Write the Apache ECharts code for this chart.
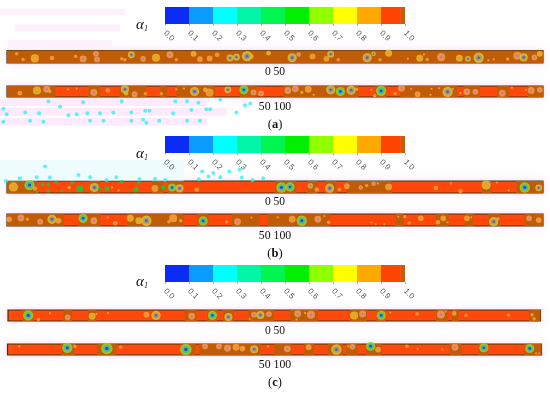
<!DOCTYPE html>
<html><head><meta charset="utf-8">
<style>html,body{margin:0;padding:0;background:#fff}#c{width:550px;height:393px}</style>
<script src="https://cdn.jsdelivr.net/npm/echarts@6/dist/echarts.min.js"></script>
</head><body><div id="c"></div>
<script>
// colour bar
const barTicks = [0,0.1,0.2,0.3,0.4,0.5,0.6,0.7,0.8,0.9,1.0];
const barSegments = [0.1,0.1,0.1,0.1,0.1,0.1,0.1,0.1,0.1,0.083,0.017];
const barColors = ['#0a2cf5','#0a9cff','#00ffff','#00f5a5','#00f550','#00f000','#90ff00','#ffff00','#ffa800','#ff4400','#bf6010'];

// bubbles: [axial position, height in channel, diameter, minimum alpha]
const a1Bubbles = [[0.9,.74,3,.85],[1.5,.29,3,.85],[2.6,.37,7,.75],[4.2,.4,4,.85],[6.4,.53,3,.85],[7.1,.32,6,.6],[8.3,.74,5,.6],[8.4,.29,5,.6],[10.7,.34,3,.85],[11,.26,3,.85],[11.6,.66,6,.4],[12.7,.34,5,.6],[13.9,.42,7,.75],[15.2,.66,6,.6],[15.8,.26,3,.85],[17.4,.74,5,.75],[18,.32,5,.85],[18.9,.37,5,.85],[19.6,.66,4,.85],[20.8,.4,6,.4],[21.4,.47,6,.4],[22.4,.55,9,.4],[22.8,.53,4,.75],[24.4,.79,4,.75],
[26.6,.42,8,.4],[27.2,.68,4,.6],[28.5,.53,5,.85],[29.8,.34,5,.85],[30.2,.71,6,.4],[30.9,.26,3,.85],[33.6,.42,8,.4],[34.2,.74,4,.4],[34.8,.26,3,.85],[35.6,.79,6,.75],[37.4,.34,2,.85],[38.5,.39,6,.75],[38.9,.68,2,.85],[39.2,.29,3,.85],[40.5,.47,7,.6],[42.2,.39,6,.75],[43,.34,5,.4],[44,.42,9,.4],[44.9,.21,2,.85],[45.4,.29,2,.85],[46.7,.32,3,.85],[47.6,.58,7,.6],[48.2,.45,7,.4],[49.2,.45,5,.6],[49.7,.74,5,.75]];
const a2Bubbles = [[1.2,.35,4,.85],[2.8,.59,7,.75],[3.7,.7,6,.6],[4,.5,3,.85],[5.7,.7,2,.85],[6.5,.76,2,.85],[8.1,.41,6,.6],[9.4,.59,4,.85],[11,.7,7,.4],[11.1,.35,4,.75],[11.9,.26,5,.6],[12.9,.3,3,.85],[14.4,.3,3,.85],[15.8,.7,2,.85],[16.5,.76,2,.85],[17.5,.5,8,.4],[18.5,.65,4,.75],[18.9,.41,7,.85],[20.6,.65,6,.4],[22.1,.65,8,.1],[23,.41,5,.6],[23.7,.32,5,.6],
[26.2,.59,6,.6],[26.9,.74,6,.6],[27.5,.41,3,.85],[28.1,.7,6,.85],[28.6,.2,2,.85],[30.2,.65,8,.4],[31.1,.5,8,.1],[32.1,.62,8,.4],[32.6,.7,3,.85],[34,.65,2,.85],[34.3,.12,3,.85],[34.9,.56,9,.1],[36.2,.32,3,.85],[36.8,.79,6,.6],[37.7,.74,2,.85],[38.3,.26,5,.85],[39.6,.74,2,.85],[39.5,.2,2,.85],[40.3,.79,2,.85],[41.1,.47,9,.4],[41.6,.74,2,.85],[42.3,.35,2,.85],[42.9,.47,6,.6],[43.7,.47,5,.6],[46.2,.35,6,.6],[47.1,.85,2,.85],[48.4,.65,2,.85],[48.9,.59,6,.6],[49.7,.65,5,.6]];
const b1Bubbles = [[.6,.51,8,.75],[2.1,.66,9,.1],[2.6,.37,4,.85],[3.3,.71,3,.5],[3.85,.66,3,.5],[4.6,.89,3,.5],[3.85,.17,3,.5],[2.8,.09,2,.5],[5.1,.23,2,.5],[6.1,.86,3,.5],[5.8,.46,3,.85],[6.8,.34,6,.5],[8.15,.46,8,.4],[8.6,.37,3,.5],[9.3,.37,4,.5],[9.8,.46,2,.85],[10.4,.23,2,.85],[12,.29,5,.5],[10.7,.94,3,.5],[12.3,.86,3,.5],[13.8,.37,6,.85],[14.6,.46,4,.5],[15.4,.46,7,.1],[16.1,.4,7,.4],[17.7,.29,4,.85],
[25.6,.46,9,.1],[26.4,.51,8,.1],[28.3,.6,5,.6],[28.9,.29,4,.85],[30.1,.4,8,.4],[31,.29,3,.85],[31.7,.57,5,.85],[33,.46,4,.6],[33.55,.63,3,.85],[34.2,.77,4,.6],[34.6,.8,2,.85],[35.6,.51,6,.85],[40,.43,4,.85],[41.4,.8,2,.85],[42.3,.17,4,.85],[44.7,.66,8,.75],[45.7,.86,2,.85],[46.8,.23,2,.85],[48.3,.46,9,.1],[49.6,.43,6,.4]];
const b2Bubbles = [[.2,.56,5,.85],[1.3,.67,6,.6],[1.9,.56,3,.85],[3.1,.36,5,.6],[4.2,.56,8,.4],[4.8,.44,5,.85],[7.1,.64,8,.1],[8.1,.44,6,.6],[9.4,.69,2,.85],[10.1,.22,4,.6],[11.5,.64,6,.75],[12.3,.44,6,.75],[13,.44,9,.4],[15.5,.64,7,.85],[15.1,.36,3,.85],[16.2,.44,3,.85],[18.3,.42,8,.1],[20.5,.36,3,.85],[21.5,.36,6,.6],[22.8,.69,2,.85],
[25.25,.72,2,.85],[26.6,.56,6,.85],[27.5,.44,9,.1],[29,.56,6,.6],[29.6,.83,2,.85],[30,.31,3,.85],[34,.31,2,.85],[34.4,.14,2,.85],[35.2,.14,2,.85],[36.5,.78,2,.85],[37.1,.78,3,.85],[37.5,.25,3,.85],[38.6,.64,5,.85],[40.2,.31,4,.85],[40.7,.64,5,.85],[41.1,.31,2,.85],[42.9,.64,5,.85],[43.3,.72,2,.85],[45.4,.36,8,.4],[45.8,.61,3,.85],[48.7,.64,5,.6],[49.6,.5,5,.85]];
const c1Bubbles = [[1.9,.51,9,.1],[2.85,.14,3,.85],[3.95,.69,2,.85],[5.6,.34,5,.6],[7.9,.43,6,.75],[8.3,.63,2,.85],[9.4,.71,2,.85],[13,.57,5,.85],[13.9,.51,8,.4],[17.25,.43,6,.6],[19.2,.51,8,.1],[20.7,.37,7,.4],[22.7,.2,2,.85],[23.1,.57,5,.6],[23.7,.54,7,.4],[24.5,.63,5,.6],
[27.2,.66,6,.6],[27.9,.71,2,.85],[28.45,.57,7,.6],[27.1,.14,2,.85],[32.5,.49,7,.75],[33.3,.63,6,.6],[35.05,.51,8,.1],[35.9,.77,2,.85],[38.4,.63,3,.85],[40.65,.6,7,.6],[41.1,.86,2,.85],[41.9,.69,4,.85],[43,.51,3,.85],[47,.54,3,.85],[49.2,.57,3,.85],[49.4,.2,3,.85]];
const c2Bubbles = [[1.1,.79,2,.85],[5.6,.65,9,.1],[6.3,.79,3,.85],[9.3,.59,10,.1],[10.6,.71,3,.85],[16.7,.5,10,.1],[18.5,.79,5,.6],[19.8,.79,5,.6],[20.6,.62,6,.6],[21.4,.71,6,.85],[22,.59,5,.85],[23.1,.53,7,.4],[24.4,.79,2,.85],
[26.2,.56,6,.6],[28.2,.71,5,.85],[30.8,.5,9,.4],[31.9,.79,2,.85],[32.3,.74,5,.6],[34,.79,8,.1],[34.7,.5,5,.85],[37.4,.79,3,.85],[38.4,.56,2,.85],[40.7,.5,2,.85],[41.9,.71,6,.6],[44.6,.65,8,.1],[48.9,.59,8,.1],[49.5,.15,2,.85],[49.8,.15,2,.85]];

// darker brown stretches of each channel: [from, to]
const a1Brown = [[0,50]];
const a2Brown = [[0,4.5],[7.6,8.7],[10.5,13],[14.3,14.9],[15.8,19.4],[21.7,23.3],[25.8,32.8],[34.3,35.4],[36.7,42],[42.6,44.1],[45.7,46.8],[48.6,50]];
const b1Brown = [[0,2.8],[7.75,8.7],[13.5,14.6],[15.05,16.45],[25,27],[28,29],[29.7,30.75],[31.7,35.9],[44.3,45.2],[47.5,50]];
const b2Brown = [[0,5.3],[6.7,8.7],[11.2,16.45],[17.7,18.8],[21,23.6],[24.3,30.1],[36.2,37],[40,41.2],[42.7,43.5],[44.9,46],[48.3,50]];
const c1Brown = [[1.4,2.4],[5.2,6],[7.5,8.3],[16.6,17.7],[18.7,19.6],[20.2,21.2],[22.6,25],[26.5,29.1],[32.1,33.7],[34.6,35.4],[40.2,41.3],[41.7,42.3],[48.9,50]];
const c2Brown = [[5,6.3],[8.4,10.2],[16.2,17.6],[18,23.7],[25,26.6],[27.8,28.7],[30,31.4],[31.7,32.8],[33.6,35],[41.4,42.5],[44.1,45],[48.4,50]];

// speckle and pale bands of the print around the channels
const a2Speckle = [[-.34,-1.06],[-.03,-1.56],[1.7,-1.41],[3,-1.47],[3.86,-.38],[4.95,-.88],[5.73,-1.65],[7.1,-.47],[7.5,-1.47],[8.68,-1.47],[9.92,-1.41],[10.7,-.38],[11.6,-1.41],[12.9,-1.26],[13.3,-1.26],[15.5,-1.47],[15.7,-.38],[16.8,-.38],[17.85,-.53],[17.2,-1.18],[18.6,-1.12],[18.95,-1.12],[19.9,-.24],[21.4,-1.41],[22.2,-.76],[22.7,-.59],[-.34,-2.24],[2.15,-2.15],[3.4,-2.24],[7.75,-2.15],[9,-2.15],[11.6,-2.15],[12.7,-2.06],[14.2,-2.15],[16.8,-2.15],[18,-2.15],[13,-2.35],[6.5,-1.56]];
const b1Speckle = [[-.1,1],[1.2,1.23],[2.77,1.31],[4,1.29],[6.66,1.51],[7.75,1.31],[9.3,1.09],[10.2,1.31],[12.35,1.17],[13.8,1.17],[14.75,1.09],[17.9,1.14],[18.2,1.8],[18.8,1.37],[19.25,1.66],[19.9,1.31],[20.75,1.8],[21.7,1.94],[21.9,1.29],[22.9,1.09],[23.9,1.23],[3.55,2.2]];
const a1Pale = [[-.65,11,3.85,4.35],[.75,10.55,2.5,3.1],[.1,9.8,1.25,1.85]];
const a2Pale = [[-.65,18.7,-.82,-.2],[-.65,20.5,-1.7,-.97],[-.65,18.7,-2.6,-1.9]];
const b1Pale = [[-.65,16.5,1.05,2.75]];

const palette = {
  .85:['#f5a63e'],
  .75:['#e2c42e','#f09c30'],
  .6:['#e8a648','#e88f80','#dc5ea0'],
  .5:['#0cd038'],
  .4:['#e0c838','#8fa47e','#7440c0'],
  .1:['#9ad82a','#30c4a8','#2234e6']
};
const layerScale = [1.15,.72,.36];

const strips = [
 {left:7,top:50.5,width:536,height:12.5,min:0,bubbles:a1Bubbles,brown:a1Brown,pale:a1Pale,paleColor:'#fef1fc',speckle:[],base:'#ff4400'},
 {left:7,top:86,width:536,height:11,min:50,bubbles:a2Bubbles,brown:a2Brown,pale:a2Pale,paleColor:'#fdeafb',speckle:a2Speckle,base:'#ff4400'},
 {left:7,top:181,width:536,height:12,min:0,bubbles:b1Bubbles,brown:b1Brown,pale:b1Pale,paleColor:'#effcfd',speckle:b1Speckle,base:'#ff4400'},
 {left:7,top:214,width:536,height:12,min:50,bubbles:b2Bubbles,brown:b2Brown,pale:[],paleColor:'#fff',speckle:[],base:'#ff4400'},
 {left:8,top:310,width:532.5,height:11,min:0,bubbles:c1Bubbles,brown:c1Brown,pale:[],paleColor:'#fff',speckle:[],base:'#ff4400'},
 {left:7.5,top:344,width:534,height:11,min:50,bubbles:c2Bubbles,brown:c2Brown,pale:[],paleColor:'#fff',speckle:[],base:'#ff4400'}
];
const barTops = [7,136,265];
const serif = '"Liberation Serif","Times New Roman",serif';

const grid=[],xAxis=[],yAxis=[],series=[];
strips.forEach((s,i)=>{
  grid.push({left:s.left,top:s.top,width:s.width,height:s.height,show:true,backgroundColor:s.base,
    borderColor:'#3a3608',borderWidth:1.2,shadowColor:'rgba(250,190,245,.5)',shadowBlur:7});
  xAxis.push({type:'value',gridIndex:i,min:s.min,max:s.min+50,show:false});
  yAxis.push({type:'value',gridIndex:i,min:0,max:1,show:false});
  const off=s.min;
  series.push({type:'custom',xAxisIndex:i,yAxisIndex:i,z:0,silent:true,clip:false,
    data:s.pale.map(p=>[p[0]+off,p[1]+off,p[2],p[3]]),
    encode:{x:[0,1],y:[2,3]},
    renderItem:(params,api)=>{
      const a=api.coord([api.value(0),api.value(3)]),b=api.coord([api.value(1),api.value(2)]);
      return {type:'rect',shape:{x:a[0],y:a[1],width:b[0]-a[0],height:b[1]-a[1]},style:{fill:s.paleColor}};
    }});
  series.push({type:'scatter',xAxisIndex:i,yAxisIndex:i,z:1,silent:true,symbolSize:4,clip:false,
    data:s.speckle.map(p=>[p[0]+off,p[1]]),itemStyle:{color:'#38f0f0'},
    markArea:{silent:true,data:s.brown.map(b=>[{coord:[b[0]+off,0],itemStyle:{color:'#c05c08',opacity:1}},{coord:[b[1]+off,1]}])}});
  layerScale.forEach((k,l)=>{
    series.push({type:'scatter',xAxisIndex:i,yAxisIndex:i,z:3+l,silent:true,
      data:s.bubbles.filter(b=>palette[b[3]][l]).map(b=>[b[0]+off,b[1],b[2],b[3]]),
      symbolSize:v=>v[2]*k,
      itemStyle:{color:p=>palette[p.value[3]][l]}});
  });
});
barTops.forEach((t,j)=>{
  const g=grid.length;
  grid.push({left:165,top:t,width:240,height:17});
  xAxis.push({type:'value',gridIndex:g,min:0,max:1,interval:.1,
    axisLine:{show:false},splitLine:{show:false},axisTick:{show:true,length:2,lineStyle:{color:'#777',width:.6}},
    axisLabel:{rotate:-45,fontSize:8,color:'#555',margin:8,fontFamily:'"Liberation Sans",Arial,sans-serif',
      customValues:barTicks,formatter:v=>v.toFixed(1)}});
  yAxis.push({type:'category',gridIndex:g,data:[''],show:false});
  barSegments.forEach((w,k)=>series.push({type:'bar',stack:'bar'+j,xAxisIndex:g,yAxisIndex:g,barWidth:'100%',silent:true,
    data:[w],itemStyle:{color:barColors[k]}}));
});

const texts=[];
const addText=(x,y,text,size,rich)=>texts.push({type:'text',x,y,silent:true,style:{text,align:'center',verticalAlign:'middle',
  font:size+'px '+serif,fill:'#111',rich}});
[[25,72,107,125,'a'],[154,202,236,254,'b'],[282,331,365,383,'c']].forEach(r=>{
  addText(142,r[0],'{a|α}{s|1}',15,{a:{fontFamily:serif,fontStyle:'italic',fontSize:15,color:'#333'},
    s:{fontFamily:serif,fontStyle:'italic',fontSize:8,color:'#333',padding:[7,0,0,0]}});
  addText(275,r[1],'0 50',11.5);
  addText(275,r[2],'50 100',11.8);
  addText(275,r[3],'({b|'+r[4]+'})',12.5,{b:{fontFamily:serif,fontWeight:'bold',fontSize:12.5,color:'#111'}});
});

const chart=echarts.init(document.getElementById('c'),null,{renderer:'canvas'});
chart.setOption({animation:false,backgroundColor:'#fff',grid,xAxis,yAxis,series,graphic:{elements:texts}});
</script></body></html>
